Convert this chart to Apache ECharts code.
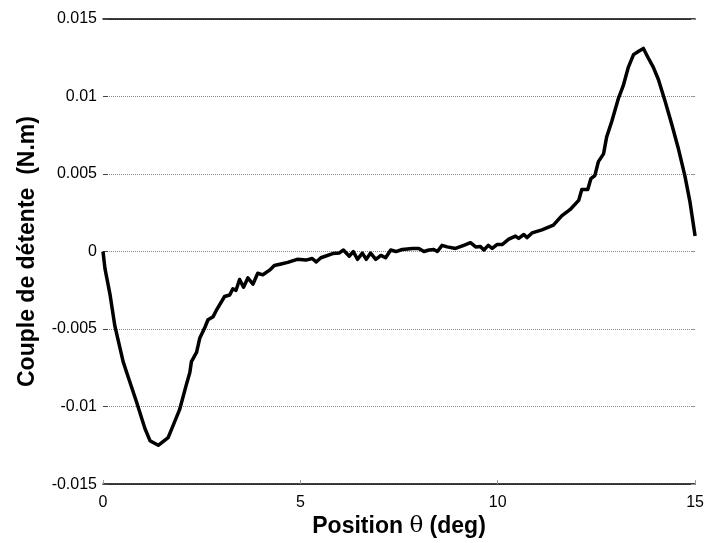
<!DOCTYPE html>
<html>
<head>
<meta charset="utf-8">
<script src="https://cdn.jsdelivr.net/npm/echarts@6/dist/echarts.min.js"></script>
<style>html,body{margin:0;padding:0;background:#fff}#c{width:707px;height:543px}</style>
</head>
<body>
<div id="c"></div>
<script>
const theta = [0, 0.05, 0.18, 0.30, 0.51, 0.60, 0.85, 1.06, 1.19, 1.40, 1.65, 1.78, 1.94, 2.11, 2.20, 2.24, 2.37, 2.45, 2.58, 2.66, 2.79, 2.87, 3.08, 3.21, 3.29, 3.37, 3.46, 3.56, 3.67, 3.80, 3.92, 4.05, 4.22, 4.34, 4.51, 4.68,
  4.92, 5.14, 5.30, 5.40, 5.52, 5.82, 5.98, 6.09, 6.24, 6.34, 6.45, 6.57, 6.67, 6.78, 6.91, 7.04, 7.16, 7.29, 7.42, 7.58, 7.84, 8.00, 8.13, 8.26, 8.38, 8.47, 8.59, 8.72, 8.93, 9.14, 9.31, 9.44, 9.56, 9.65, 9.76, 9.86, 9.98, 10.11, 10.28, 10.45, 10.53, 10.66, 10.74, 10.87, 11.12, 11.41,
  11.62, 11.83, 12.05, 12.13, 12.28, 12.36, 12.46, 12.55, 12.68, 12.76, 12.89, 13.06, 13.18, 13.31, 13.44, 13.56, 13.69, 13.81, 13.94, 14.07, 14.24, 14.41, 14.57, 14.74, 14.87, 15.0];
const torque = [0, -0.0011, -0.0028, -0.0048, -0.0071, -0.0078, -0.0097, -0.0114, -0.0122, -0.0125, -0.0120, -0.0112, -0.0102, -0.0086, -0.0078, -0.0071, -0.0065, -0.0056, -0.0049, -0.0044, -0.0042, -0.0038, -0.0029, -0.0028, -0.0024, -0.0025, -0.0018, -0.0023, -0.0017, -0.0021, -0.0014, -0.0015, -0.0012, -0.0009, -0.0008, -0.0007,
  -0.0005, -0.00055, -0.00045, -0.00067, -0.0004, -0.00013, -0.0001, 0.0001, -0.0003, 0, -0.0005, -0.0001, -0.0005, -0.0001, -0.0005, -0.00025, -0.0004, 0.0001, 0, 0.00013, 0.0002, 0.0002, 0, 0.0001, 0.00013, 0, 0.0004, 0.0003, 0.0002, 0.0004, 0.00057, 0.0003, 0.00033, 0.0001, 0.0004, 0.0002, 0.00045, 0.00045, 0.0008, 0.001, 0.00085, 0.0011, 0.0009, 0.0012, 0.0014, 0.0017,
  0.0023, 0.0027, 0.0033, 0.004, 0.004, 0.0047, 0.0049, 0.0058, 0.0063, 0.0074, 0.0084, 0.0099, 0.0107, 0.0119, 0.0127, 0.0129, 0.0131, 0.0125, 0.0119, 0.0111, 0.0097, 0.0082, 0.0067, 0.0049, 0.0032, 0.0010];
const xTicks = [0, 5, 10, 15];
const yTicks = [-0.015, -0.01, -0.005, 0, 0.005, 0.01, 0.015];

const chart = echarts.init(document.getElementById('c'), null, {renderer: 'canvas'});
const font = 'Liberation Sans, Arial, sans-serif';
const yLabel = v => { const r = Math.round(v * 1000) / 1000; return r === 0 ? '0' : String(r); };
chart.setOption({
  animation: false,
  backgroundColor: '#fff',
  grid: {left: 103, right: 10, top: 19, bottom: 57},
  xAxis: [{
    type: 'value', min: xTicks[0], max: xTicks[xTicks.length - 1], interval: 5, position: 'bottom',
    axisLine: {show: true, onZero: false, lineStyle: {color: '#000', width: 1.5}},
    axisTick: {show: true, inside: true, length: 4, lineStyle: {color: '#999'}},
    axisLabel: {color: '#000', fontSize: 16, fontFamily: font, margin: 10},
    splitLine: {show: false},
    name: '{b|Position }{n|θ}{b| (deg)}', nameLocation: 'middle', nameGap: 27,
    nameTextStyle: {rich: {
      b: {fontSize: 23, fontWeight: 'bold', fontFamily: font, color: '#000'},
      n: {fontSize: 23, fontFamily: 'DejaVu Serif, serif', color: '#000'}
    }}
  }, {
    type: 'value', min: 0, max: 15, interval: 5, position: 'top',
    axisLine: {show: true, onZero: false, lineStyle: {color: '#000', width: 1.5}},
    axisTick: {show: false}, axisLabel: {show: false}, splitLine: {show: false}
  }],
  yAxis: [{
    type: 'value', min: yTicks[0], max: yTicks[yTicks.length - 1], interval: 0.005, position: 'left',
    axisLine: {show: false, onZero: false},
    axisTick: {show: true, inside: true, length: 5, lineStyle: {color: '#444'}},
    axisLabel: {color: '#000', fontSize: 16, fontFamily: font, margin: 6, formatter: yLabel},
    splitLine: {show: true, lineStyle: {color: '#888', type: [1, 1], width: 1}},
    name: 'Couple de détente  (N.m)', nameLocation: 'middle', nameGap: 64,
    nameTextStyle: {fontSize: 23, fontWeight: 'bold', fontFamily: font, color: '#000'}
  }, {
    type: 'value', min: -0.015, max: 0.015, interval: 0.005, position: 'right',
    axisLine: {show: false, onZero: false},
    axisTick: {show: true, inside: true, length: 4, lineStyle: {color: '#999'}},
    axisLabel: {show: false}, splitLine: {show: false}
  }],
  series: [{
    type: 'line', xAxisIndex: 0, yAxisIndex: 0,
    data: theta.map((t, i) => [t, torque[i]]),
    showSymbol: false, smooth: false,
    lineStyle: {color: '#000', width: 3.5, join: 'round'}
  }]
});
</script>
</body>
</html>
